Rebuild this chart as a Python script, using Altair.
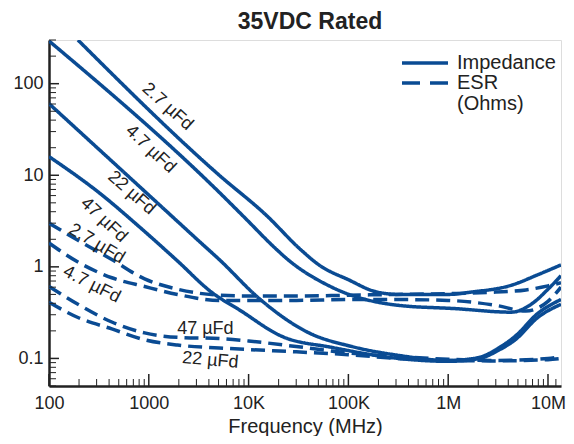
import altair as alt
import pandas as pd

# ---------------- data ----------------
curve_names = ["Z 2.7", "Z 4.7", "Z 22", "Z 47", "E 2.7", "E 4.7", "E 47", "E 22"]
curve_kinds = ["Impedance"] * 4 + ["ESR"] * 4

z27_f = [195, 5090, 15000, 33500, 50700, 101000, 188000, 318000, 1.0e6, 1.7e6, 4.3e6, 7.9e6, 1.35e7]
z27_v = [300, 10, 3.67, 1.53, 1.05, 0.72, 0.535, 0.50, 0.50, 0.53, 0.63, 0.82, 1.05]

z47_f = [100, 5090, 8630, 19300, 23700, 68200, 318000, 1.17e6, 4.3e6, 7.0e6, 1.0e7, 1.35e7]
z47_v = [293, 6.5, 3.67, 1.53, 1.25, 0.60, 0.38, 0.35, 0.32, 0.40, 0.57, 0.80]

z22_f = [100, 1600, 3200, 5090, 12800, 40300, 108000, 318000, 1.0e6, 2.0e6, 3.2e6, 4.7e6, 7.9e6, 1.35e7]
z22_v = [60.6, 3.8, 1.9, 1.2, 0.45, 0.19, 0.135, 0.108, 0.095, 0.102, 0.13, 0.175, 0.31, 0.44]

z470_f = [100, 323, 809, 1890, 4340, 8050, 21600, 68200, 318000, 1.0e6, 2.0e6, 3.2e6, 4.7e6, 7.9e6, 1.35e7]
z470_v = [16, 6.36, 2.72, 1.19, 0.52, 0.34, 0.174, 0.132, 0.10, 0.093, 0.099, 0.123, 0.16, 0.28, 0.39]

e27_f = [100, 195, 426, 908, 1940, 5090, 1e4, 3e4, 1e5, 3e5, 1e6, 3e6, 6e6, 1e7, 1.35e7]
e27_v = [3.0, 1.95, 1.2, 0.74, 0.57, 0.49, 0.48, 0.48, 0.49, 0.50, 0.51, 0.53, 0.56, 0.62, 0.67]

e47_f = [100, 195, 426, 908, 1940, 5090, 1e4, 3e4, 1e5, 3e5, 1e6, 3e6, 6e6, 1e7, 1.35e7]
e47_v = [1.82, 1.13, 0.76, 0.61, 0.50, 0.43, 0.43, 0.43, 0.44, 0.44, 0.43, 0.38, 0.33, 0.42, 0.60]

e470_f = [100, 195, 426, 908, 1940, 5090, 1e4, 3e4, 1e5, 3e5, 1e6, 3e6, 1e7, 1.35e7]
e470_v = [0.61, 0.39, 0.25, 0.19, 0.17, 0.165, 0.155, 0.135, 0.115, 0.105, 0.098, 0.095, 0.10, 0.105]

e22_f = [100, 195, 426, 908, 1940, 5090, 1e4, 3e4, 1e5, 3e5, 1e6, 3e6, 1e7, 1.35e7]
e22_v = [0.41, 0.28, 0.21, 0.16, 0.14, 0.13, 0.125, 0.118, 0.11, 0.10, 0.095, 0.094, 0.097, 0.10]

curve_f = [z27_f, z47_f, z22_f, z470_f, e27_f, e47_f, e470_f, e22_f]
curve_v = [z27_v, z47_v, z22_v, z470_v, e27_v, e47_v, e470_v, e22_v]

label_text = ["2.7 µFd", "4.7 µFd", "22 µFd", "47 µFd", "2.7 µFd", "4.7 µFd", "47 µFd", "22 µFd"]
label_f = [1540, 1040, 673, 354, 301, 268, 3690, 4140]
label_v = [56, 19.2, 6.4, 3.24, 1.78, 0.64, 0.212, 0.095]
label_angle = [42, 43, 41, 43, 31, 27, 0, 5]

x_major = [100, 1000, 1e4, 1e5, 1e6, 1e7]
x_major_labels = ["100", "1000", "10K", "100K", "1M", "10M"]
y_major = [0.1, 1, 10, 100]
y_major_labels = ["0.1", "1", "10", "100"]

# ---------------- build tables ----------------
rows = []
for name, kind, fs, vs in zip(curve_names, curve_kinds, curve_f, curve_v):
    for f, v in zip(fs, vs):
        rows.append({"curve": name, "kind": kind, "f": f, "v": v})
df = pd.DataFrame(rows)

x_minor = [m * d for d in [100, 1000, 1e4, 1e5, 1e6] for m in range(2, 10)] + [1.2e7]
y_minor = [0.05, 0.06, 0.07, 0.08, 0.09] + [m * d for d in [0.1, 1, 10] for m in range(2, 10)] + [200, 300]

BLUE = "#0a4b93"
INK = "#222222"
FONT = "Liberation Sans"
W, H = 512, 346


def ternary(values, labels):
    expr = "''"
    for val, lab in zip(values, labels):
        expr = f"(abs(datum.value - {val}) < {val}*1e-6 ? '{lab}' : {expr})"
    return expr


xscale = alt.Scale(type="log", domain=[100, 1.35e7], nice=False)
yscale = alt.Scale(type="log", domain=[0.05, 300], nice=False)
xaxis = alt.Axis(values=x_major, labelExpr=ternary(x_major, x_major_labels), ticks=False, tickSize=0,
                 grid=False, domainColor=INK, domainWidth=2.5, labelFontSize=18, labelColor=INK,
                 labelPadding=8, labelFlush=False, labelOverlap=False, title="Frequency (MHz)",
                 titleFontSize=20, titleFontWeight="normal", titleColor=INK, titleX=W / 2, titleY=46,
                 titleBaseline="alphabetic", titleAlign="center", labelFont=FONT, titleFont=FONT)
yaxis = alt.Axis(values=y_major, labelExpr=ternary(y_major, y_major_labels), ticks=False, tickSize=0,
                 grid=False, domainColor=INK, domainWidth=2.5, labelFontSize=18, labelColor=INK,
                 labelPadding=6, labelFlush=False, title=None, labelFont=FONT)

X = alt.X("f:Q", scale=xscale, axis=xaxis)
Y = alt.Y("v:Q", scale=yscale, axis=yaxis)

lines = alt.Chart(df).mark_line(strokeWidth=3.5, color=BLUE, clip=True, interpolate="monotone").encode(
    x=X, y=Y, detail="curve:N",
    strokeDash=alt.StrokeDash("kind:N", scale=alt.Scale(domain=["Impedance", "ESR"], range=[[1, 0], [14, 7]]),
                              legend=None),
)

xt_major = alt.Chart(pd.DataFrame({"f": x_major})).mark_rule(color=INK, strokeWidth=1.5).encode(
    x=X, y=alt.value(H), y2=alt.value(H - 12))
xt_minor = alt.Chart(pd.DataFrame({"f": x_minor})).mark_rule(color=INK, strokeWidth=1).encode(
    x=X, y=alt.value(H), y2=alt.value(H - 7))
yt_major = alt.Chart(pd.DataFrame({"v": y_major})).mark_rule(color=INK, strokeWidth=1.5).encode(
    y=Y, x=alt.value(0), x2=alt.value(10))
yt_minor = alt.Chart(pd.DataFrame({"v": y_minor})).mark_rule(color=INK, strokeWidth=1).encode(
    y=Y, x=alt.value(0), x2=alt.value(7))

labels = alt.Chart(pd.DataFrame({"f": label_f, "v": label_v, "t": label_text, "a": label_angle})).mark_text(
    font=FONT, fontSize=18, color=INK, baseline="middle", align="center").encode(
    x=X, y=Y, text="t:N", angle=alt.Angle("a:Q", scale=None))

title = alt.Chart(pd.DataFrame({"t": ["35VDC Rated"]})).mark_text(
    font=FONT, fontSize=23, fontWeight="bold", color=INK, baseline="middle", align="center").encode(
    x=alt.value(261), y=alt.value(-18), text="t:N")

leg_solid = alt.Chart(pd.DataFrame({"k": ["Impedance"]})).mark_rule(color=BLUE, strokeWidth=3.5).encode(
    x=alt.value(353), x2=alt.value(399), y=alt.value(23))
leg_dash = alt.Chart(pd.DataFrame({"k": ["ESR"]})).mark_rule(color=BLUE, strokeWidth=3.5, strokeDash=[18, 10]).encode(
    x=alt.value(353), x2=alt.value(399), y=alt.value(43))


def leg_text(s, py):
    return alt.Chart(pd.DataFrame({"t": [s]})).mark_text(
        font=FONT, fontSize=20, color=INK, baseline="middle", align="left").encode(
        x=alt.value(408), y=alt.value(py), text="t:N")


chart = alt.layer(
    lines, xt_major, xt_minor, yt_major, yt_minor, labels, title,
    leg_solid, leg_dash, leg_text("Impedance", 23), leg_text("ESR", 43), leg_text("(Ohms)", 64),
).properties(
    width=W, height=H,
    autosize=alt.AutoSizeParams(type="none"),
    padding={"left": 41, "top": 32, "right": 5, "bottom": 50},
).configure_view(stroke=None).configure(font=FONT)

chart.save("out.html", embed_options={"renderer": "svg", "actions": False})
